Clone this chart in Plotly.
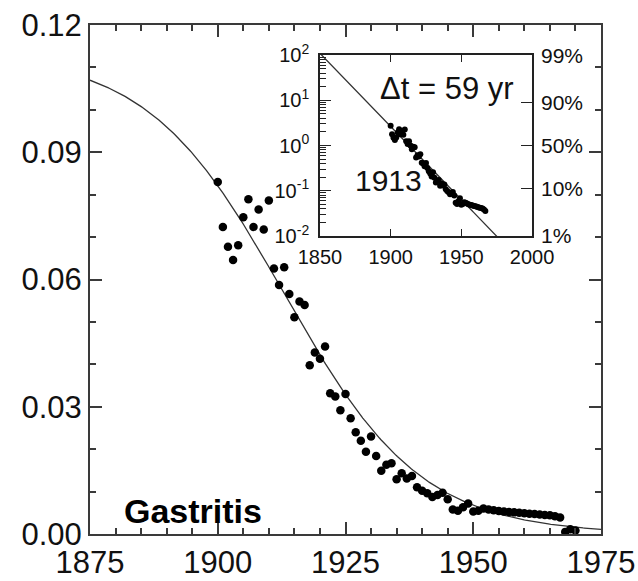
import numpy as np
import plotly.graph_objects as go

# Annual observations (fraction of deaths attributed to gastritis)
years = list(range(1900, 1971))
share = [
    0.0830, 0.0724, 0.0677, 0.0646, 0.0681, 0.0747, 0.0789, 0.0724, 0.0765, 0.0718,
    0.0786, 0.0626, 0.0587, 0.0629, 0.0566, 0.0511, 0.0548, 0.0540, 0.0398, 0.0428,
    0.0413, 0.0442, 0.0332, 0.0324, 0.0292, 0.0330, 0.0273, 0.0240, 0.0220, 0.0194,
    0.0230, 0.0184, 0.0149, 0.0163, 0.0167, 0.0129, 0.0143, 0.0131, 0.0137, 0.0110,
    0.0102, 0.0096, 0.0087, 0.0092, 0.0097, 0.0082, 0.0058, 0.0055, 0.0063, 0.0072,
    0.0053, 0.0055, 0.0060, 0.0058, 0.0056, 0.0054, 0.0053, 0.0052, 0.0051, 0.0050,
    0.0049, 0.0048, 0.0047, 0.0046, 0.0045, 0.0044, 0.0042, 0.0039, 0.0005, 0.0011,
    0.0008,
]

# Logistic fit parameters
MIDPOINT = 1913      # year of 50% decline
DELTA_T = 59         # years from 90% to 10%
SATURATION = 0.1133  # initial level of the logistic
LAST_FP_YEAR = 1967  # last year shown in the Fisher-Pry inset

main_xticks = [1875, 1900, 1925, 1950, 1975]
main_yticks = [0.00, 0.03, 0.06, 0.09, 0.12]
inset_xticks = [1850, 1900, 1950, 2000]
inset_yticks = [0.01, 0.1, 1, 10, 100]
inset_ylabels = ["10<sup>-2</sup>", "10<sup>-1</sup>", "10<sup>0</sup>", "10<sup>1</sup>", "10<sup>2</sup>"]
pct_levels = [0.01, 0.10, 0.50, 0.90, 0.99]
pct_labels = ["1%", "10%", "50%", "90%", "99%"]

# minor log ticks (2..9 within each decade) for the inset
log_minor = [m * 10.0 ** e for e in range(-2, 2) for m in range(2, 10)]

k = np.log(81) / DELTA_T
t_fit = np.linspace(1875, 1975, 400)
fit_main = SATURATION / (1 + np.exp(k * (t_fit - MIDPOINT)))
t_fit_inset = np.linspace(1850, 2000, 200)
fit_inset = np.exp(-k * (t_fit_inset - MIDPOINT))

yrs = np.array(years)
vals = np.array(share)
sel = yrs <= LAST_FP_YEAR
fp_years = yrs[sel]
fp_vals = vals[sel] / (SATURATION - vals[sel])

FONT = "Liberation Sans, Arial, sans-serif"
INK = "#111111"
AXC = "#3a3a3a"

fig = go.Figure()
fig.add_trace(go.Scatter(x=t_fit, y=fit_main, mode="lines",
                         line=dict(color="#333333", width=1.3),
                         xaxis="x", yaxis="y", hoverinfo="skip"))
fig.add_trace(go.Scatter(x=years, y=share, mode="markers",
                         marker=dict(color="black", size=8.5),
                         xaxis="x", yaxis="y"))
fig.add_trace(go.Scatter(x=t_fit_inset, y=fit_inset, mode="lines",
                         line=dict(color="#333333", width=1.3),
                         xaxis="x2", yaxis="y2", hoverinfo="skip"))
fig.add_trace(go.Scatter(x=fp_years, y=fp_vals, mode="markers",
                         marker=dict(color="black", size=6),
                         xaxis="x2", yaxis="y2"))
# invisible point so the percent axis gets drawn
fig.add_trace(go.Scatter(x=[1850], y=[1], mode="markers", marker=dict(opacity=0),
                         xaxis="x2", yaxis="y3", hoverinfo="skip"))

main_axis = dict(showgrid=False, zeroline=False, showline=True, linecolor=AXC,
                 linewidth=2, ticks="inside", ticklen=12, tickwidth=1.5,
                 tickcolor=AXC, mirror="allticks", showticklabels=True,
                 automargin=False,
                 tickfont=dict(size=31, color=INK, family=FONT))

fig.update_layout(
    width=638, height=581,
    margin=dict(l=90, r=37, t=25, b=47),
    paper_bgcolor="white", plot_bgcolor="white",
    showlegend=False,
    font=dict(family=FONT, color=INK),
    xaxis=dict(main_axis, domain=[0, 1], range=[1875, 1975], tickvals=main_xticks,
               minor=dict(dtick=5, tick0=1875, ticks="inside", ticklen=6,
                          tickwidth=1.5, tickcolor=AXC),
               anchor="y"),
    yaxis=dict(main_axis, domain=[0, 1], range=[0, 0.12], tickvals=main_yticks,
               ticktext=[f"{v:.2f}" for v in main_yticks],
               minor=dict(dtick=0.01, tick0=0, ticks="inside", ticklen=6,
                          tickwidth=1.5, tickcolor=AXC),
               anchor="x"),
    xaxis2=dict(domain=[0.450, 0.865], range=[1850, 2000], anchor="y2",
                tickvals=inset_xticks, showgrid=False, zeroline=False,
                showline=True, linecolor="#222222", linewidth=1.5,
                ticks="inside", ticklen=7, tickwidth=1.2, tickcolor="#222222",
                mirror="ticks", automargin=False, ticklabelstandoff=2,
                tickfont=dict(size=20, color=INK, family=FONT)),
    yaxis2=dict(domain=[0.5855, 0.941], type="log", range=[-2, 2], anchor="x2",
                tickvals=inset_yticks, ticktext=inset_ylabels,
                showgrid=False, zeroline=False, showline=True,
                linecolor="#222222", linewidth=1.5, mirror=True,
                ticks="inside", ticklen=11, tickwidth=1.2, tickcolor="#222222",
                minor=dict(tickmode="array", tickvals=log_minor, ticks="inside",
                           ticklen=6, tickwidth=1, tickcolor="#222222"),
                automargin=False, ticklabelstandoff=5,
                tickfont=dict(size=20, color=INK, family=FONT)),
    yaxis3=dict(domain=[0.5855, 0.941], type="log", range=[-2, 2], anchor="x2",
                overlaying="y2", side="right",
                tickvals=[p / (1 - p) for p in pct_levels], ticktext=pct_labels,
                showgrid=False, zeroline=False, showline=False,
                ticks="inside", ticklen=11, tickwidth=1.2, tickcolor="#222222",
                automargin=False, ticklabelstandoff=8,
                tickfont=dict(size=21, color=INK, family=FONT)),
    annotations=[
        dict(text="Δt = 59 yr", x=1940, y=np.log10(18), xref="x2", yref="y2",
             showarrow=False, font=dict(size=31, color=INK, family=FONT),
             xanchor="center", yanchor="middle"),
        dict(text="1913", x=1898.5, y=np.log10(0.17), xref="x2", yref="y2",
             showarrow=False, font=dict(size=30, color=INK, family=FONT),
             xanchor="center", yanchor="middle"),
        dict(text="<b>Gastritis</b>", x=1895.2, y=0.0055, xref="x", yref="y",
             showarrow=False, font=dict(size=34, color="black", family=FONT),
             xanchor="center", yanchor="middle"),
    ],
)

fig.write_html("out.html")
